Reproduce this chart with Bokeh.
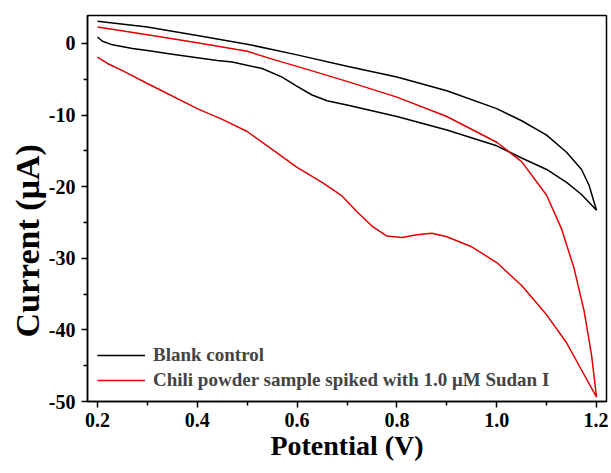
from bokeh.plotting import figure
from bokeh.models import Range1d, FixedTicker, Legend, LegendItem, PrintfTickFormatter, Title
from bokeh.embed import file_html
from bokeh.resources import INLINE

# Blank control: forward scan then reverse scan
blank_potential = [0.2, 0.3, 0.4, 0.5, 0.6, 0.7, 0.8, 0.9, 1.0, 1.05, 1.1, 1.14, 1.17, 1.185, 1.2,
                   1.17, 1.14, 1.1, 1.05, 1.0, 0.9, 0.8, 0.7, 0.66, 0.63, 0.6, 0.57, 0.53, 0.47, 0.44,
                   0.4, 0.35, 0.3, 0.27, 0.23, 0.21, 0.2]
blank_current = [3.1, 2.3, 1.1, -0.1, -1.6, -3.2, -4.7, -6.6, -9.1, -10.8, -12.8, -15.2, -17.6, -19.8, -23.3,
                 -21.1, -19.4, -17.6, -16.0, -14.3, -12.1, -10.2, -8.6, -8.0, -7.2, -6.0, -4.7, -3.5, -2.6, -2.4,
                 -2.0, -1.5, -1.0, -0.7, -0.2, 0.3, 0.9]

# Chili powder sample spiked with 1.0 uM Sudan I
sudan_potential = [0.2, 0.3, 0.4, 0.5, 0.56, 0.6, 0.7, 0.8, 0.9, 1.0, 1.05, 1.1, 1.13, 1.155, 1.175, 1.19, 1.2,
                   1.17, 1.14, 1.1, 1.05, 1.0, 0.95, 0.9, 0.87, 0.84, 0.81, 0.78, 0.75, 0.72, 0.69, 0.65,
                   0.6, 0.55, 0.5, 0.45, 0.4, 0.3, 0.25, 0.22, 0.2]
sudan_current = [2.3, 1.2, 0.1, -1.1, -2.4, -3.2, -5.3, -7.5, -10.2, -13.8, -16.5, -21.2, -25.9, -31.4, -37.3, -43.5, -49.4,
                 -45.6, -41.8, -37.9, -33.8, -30.6, -28.4, -27.0, -26.5, -26.7, -27.1, -26.9, -25.5, -23.5, -21.3, -19.4,
                 -17.3, -14.8, -12.3, -10.6, -9.1, -5.6, -3.8, -2.8, -1.9]

x_ticks = [0.2, 0.4, 0.6, 0.8, 1.0, 1.2]
x_minor = [0.3, 0.5, 0.7, 0.9, 1.1]
y_ticks = [-50, -40, -30, -20, -10, 0]
y_minor = [-45, -35, -25, -15, -5]

series_labels = ["Blank control", "Chili powder sample spiked with 1.0 \u03bcM Sudan I"]
series_colors = ["#000000", "#e00000"]

FONT = "Liberation Serif"

p = figure(width=608, height=470, output_backend="svg", toolbar_location=None,
           x_range=Range1d(0.18, 1.22), y_range=Range1d(-50, 3.9),
           min_border_left=87, min_border_right=2, min_border_top=15, min_border_bottom=69)

r1 = p.line(blank_potential, blank_current, line_color=series_colors[0], line_width=1.5)
r2 = p.line(sudan_potential, sudan_current, line_color=series_colors[1], line_width=1.5)

p.grid.visible = False
p.outline_line_color = "black"
p.outline_line_width = 1.5

p.xaxis.ticker = FixedTicker(ticks=x_ticks, minor_ticks=x_minor)
p.yaxis.ticker = FixedTicker(ticks=y_ticks, minor_ticks=y_minor)
p.xaxis.formatter = PrintfTickFormatter(format="%.1f")
p.yaxis.formatter = PrintfTickFormatter(format="%d")

for ax in (p.xaxis[0], p.yaxis[0]):
    ax.axis_line_width = 1.5
    ax.major_tick_line_width = 1.5
    ax.minor_tick_line_width = 1.5
    ax.major_tick_in = 0
    ax.major_tick_out = 6
    ax.minor_tick_in = 0
    ax.minor_tick_out = 4
    ax.major_label_text_font = FONT
    ax.major_label_text_font_style = "bold"
    ax.major_label_text_font_size = "20px"
    ax.major_label_text_color = "black"
    ax.axis_label_text_font = FONT
    ax.axis_label_text_font_style = "bold"
    ax.axis_label_text_color = "black"

p.xaxis.axis_label = "Potential (V)"
p.xaxis.axis_label_text_font_size = "28px"
p.xaxis.major_label_standoff = 5
p.xaxis.axis_label_standoff = 0
p.yaxis.major_label_standoff = 6

ytitle = Title(text="Current (\u03bcA)", align="left", offset=64, standoff=0,
               text_font=FONT, text_font_style="bold", text_font_size="34px", text_color="black")
p.add_layout(ytitle, "left")

legend = Legend(items=[LegendItem(label=series_labels[0], renderers=[r1]),
                       LegendItem(label=series_labels[1], renderers=[r2])],
                location=(10, 10), padding=0, margin=0, spacing=3,
                glyph_width=48, glyph_height=20, label_height=20, label_standoff=8,
                label_text_font=FONT, label_text_font_style="bold", label_text_font_size="19px",
                border_line_color=None, background_fill_alpha=0)
p.add_layout(legend)

open("out.html", "w").write(file_html(p, INLINE))
